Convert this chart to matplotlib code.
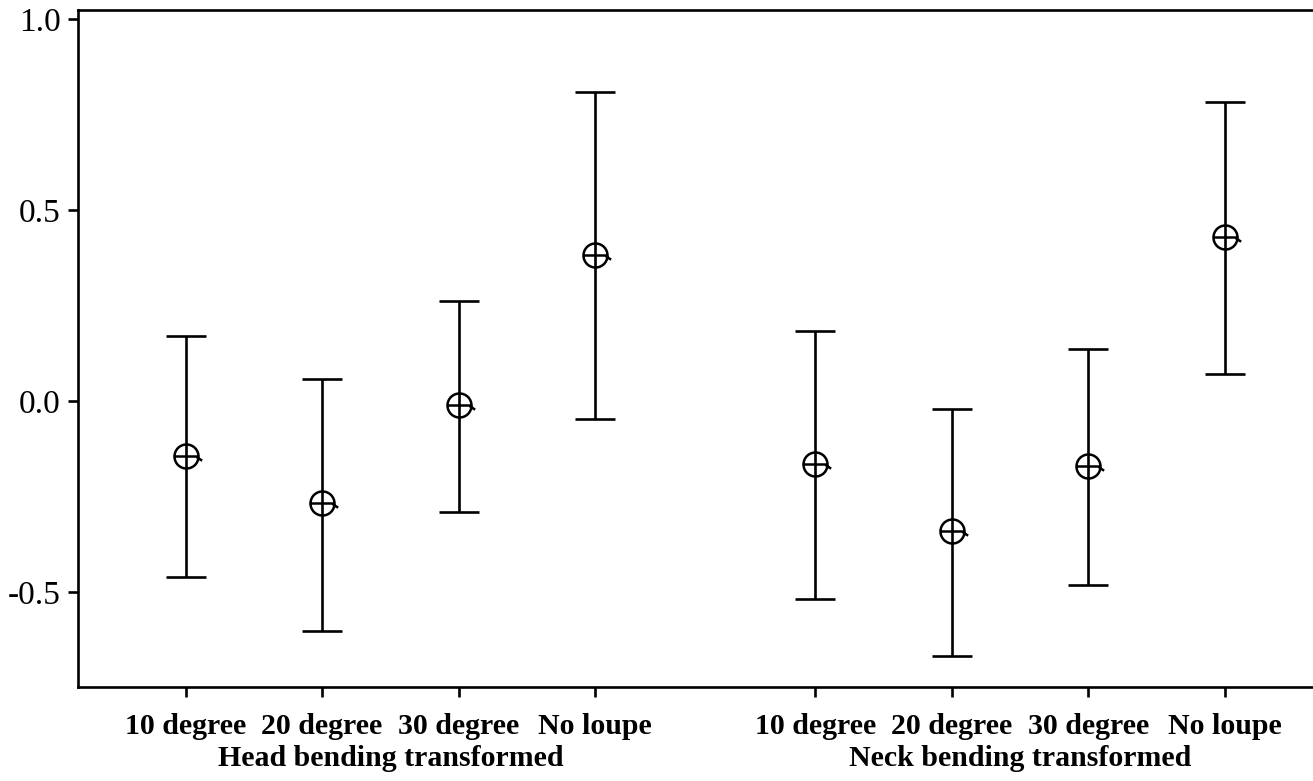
import matplotlib
matplotlib.use("Agg")
import matplotlib.pyplot as plt
import numpy as np
from matplotlib.path import Path

plt.rcParams['font.family'] = ['Liberation Serif', 'DejaVu Serif']

conditions = ["10 degree", "20 degree", "30 degree", "No loupe"]
groups = ["Head bending transformed", "Neck bending transformed"]

head_mean = [-0.144, -0.267, -0.010, 0.382]
head_low = [-0.461, -0.602, -0.291, -0.047]
head_high = [0.170, 0.058, 0.262, 0.809]

neck_mean = [-0.165, -0.340, -0.170, 0.429]
neck_low = [-0.518, -0.668, -0.482, 0.071]
neck_high = [0.183, -0.021, 0.136, 0.783]

yticks = [-0.5, 0.0, 0.5, 1.0]
ytick_labels = ["-0.5", "0.0", "0.5", "1.0"]

W, H = 1313, 781
fig = plt.figure(figsize=(W / 100, H / 100), dpi=100)
ax = fig.add_axes([78 / W, 1 - 687 / H, 1 - 78 / W + 0.01, (687 - 10) / H])

# custom marker: circle with crosshair and small tail
circ = Path.circle((0, 0), 1.0)
hline = Path([(-1, 0), (1, 0)], [Path.MOVETO, Path.LINETO])
tail = Path([(0.85, -0.05), (1.3, -0.35)], [Path.MOVETO, Path.LINETO])
mpath = Path.make_compound_path(circ, hline, tail)

group_gap = 4.61
for g, (m, lo, hi) in enumerate([(head_mean, head_low, head_high),
                                 (neck_mean, neck_low, neck_high)]):
    pos = np.arange(len(conditions)) + g * group_gap
    m = np.array(m); lo = np.array(lo); hi = np.array(hi)
    ax.errorbar(pos, m, yerr=[m - lo, hi - m], fmt='none', ecolor='black',
                elinewidth=1.9, capsize=14.4, capthick=1.9)
    ax.plot(pos, m, linestyle='none', marker=mpath, markersize=22.5,
            markerfacecolor='none', markeredgecolor='black', markeredgewidth=1.8)

all_pos = list(np.arange(4)) + list(np.arange(4) + group_gap)
ax.set_xticks(all_pos)
ax.set_xticklabels(conditions * 2, fontsize=21.5, fontweight='bold')
ax.set_yticks(yticks)
ax.set_yticklabels(ytick_labels, fontsize=24)

ax.set_xlim(-0.787, 8.35)
ax.set_ylim(-0.749, 1.024)

ax.spines['right'].set_visible(False)
for side in ['left', 'bottom', 'top']:
    ax.spines[side].set_linewidth(1.9)
ax.tick_params(axis='both', direction='out', length=7.5, width=1.9, color='black')
ax.tick_params(axis='x', pad=11)
ax.tick_params(axis='y', pad=5)

for g, name in enumerate(groups):
    cx = 1.5 + g * group_gap
    ax.text(cx, -0.105, name, transform=ax.get_xaxis_transform(),
            ha='center', va='center', fontsize=21.5, fontweight='bold')

fig.savefig("out.png", dpi=100)
